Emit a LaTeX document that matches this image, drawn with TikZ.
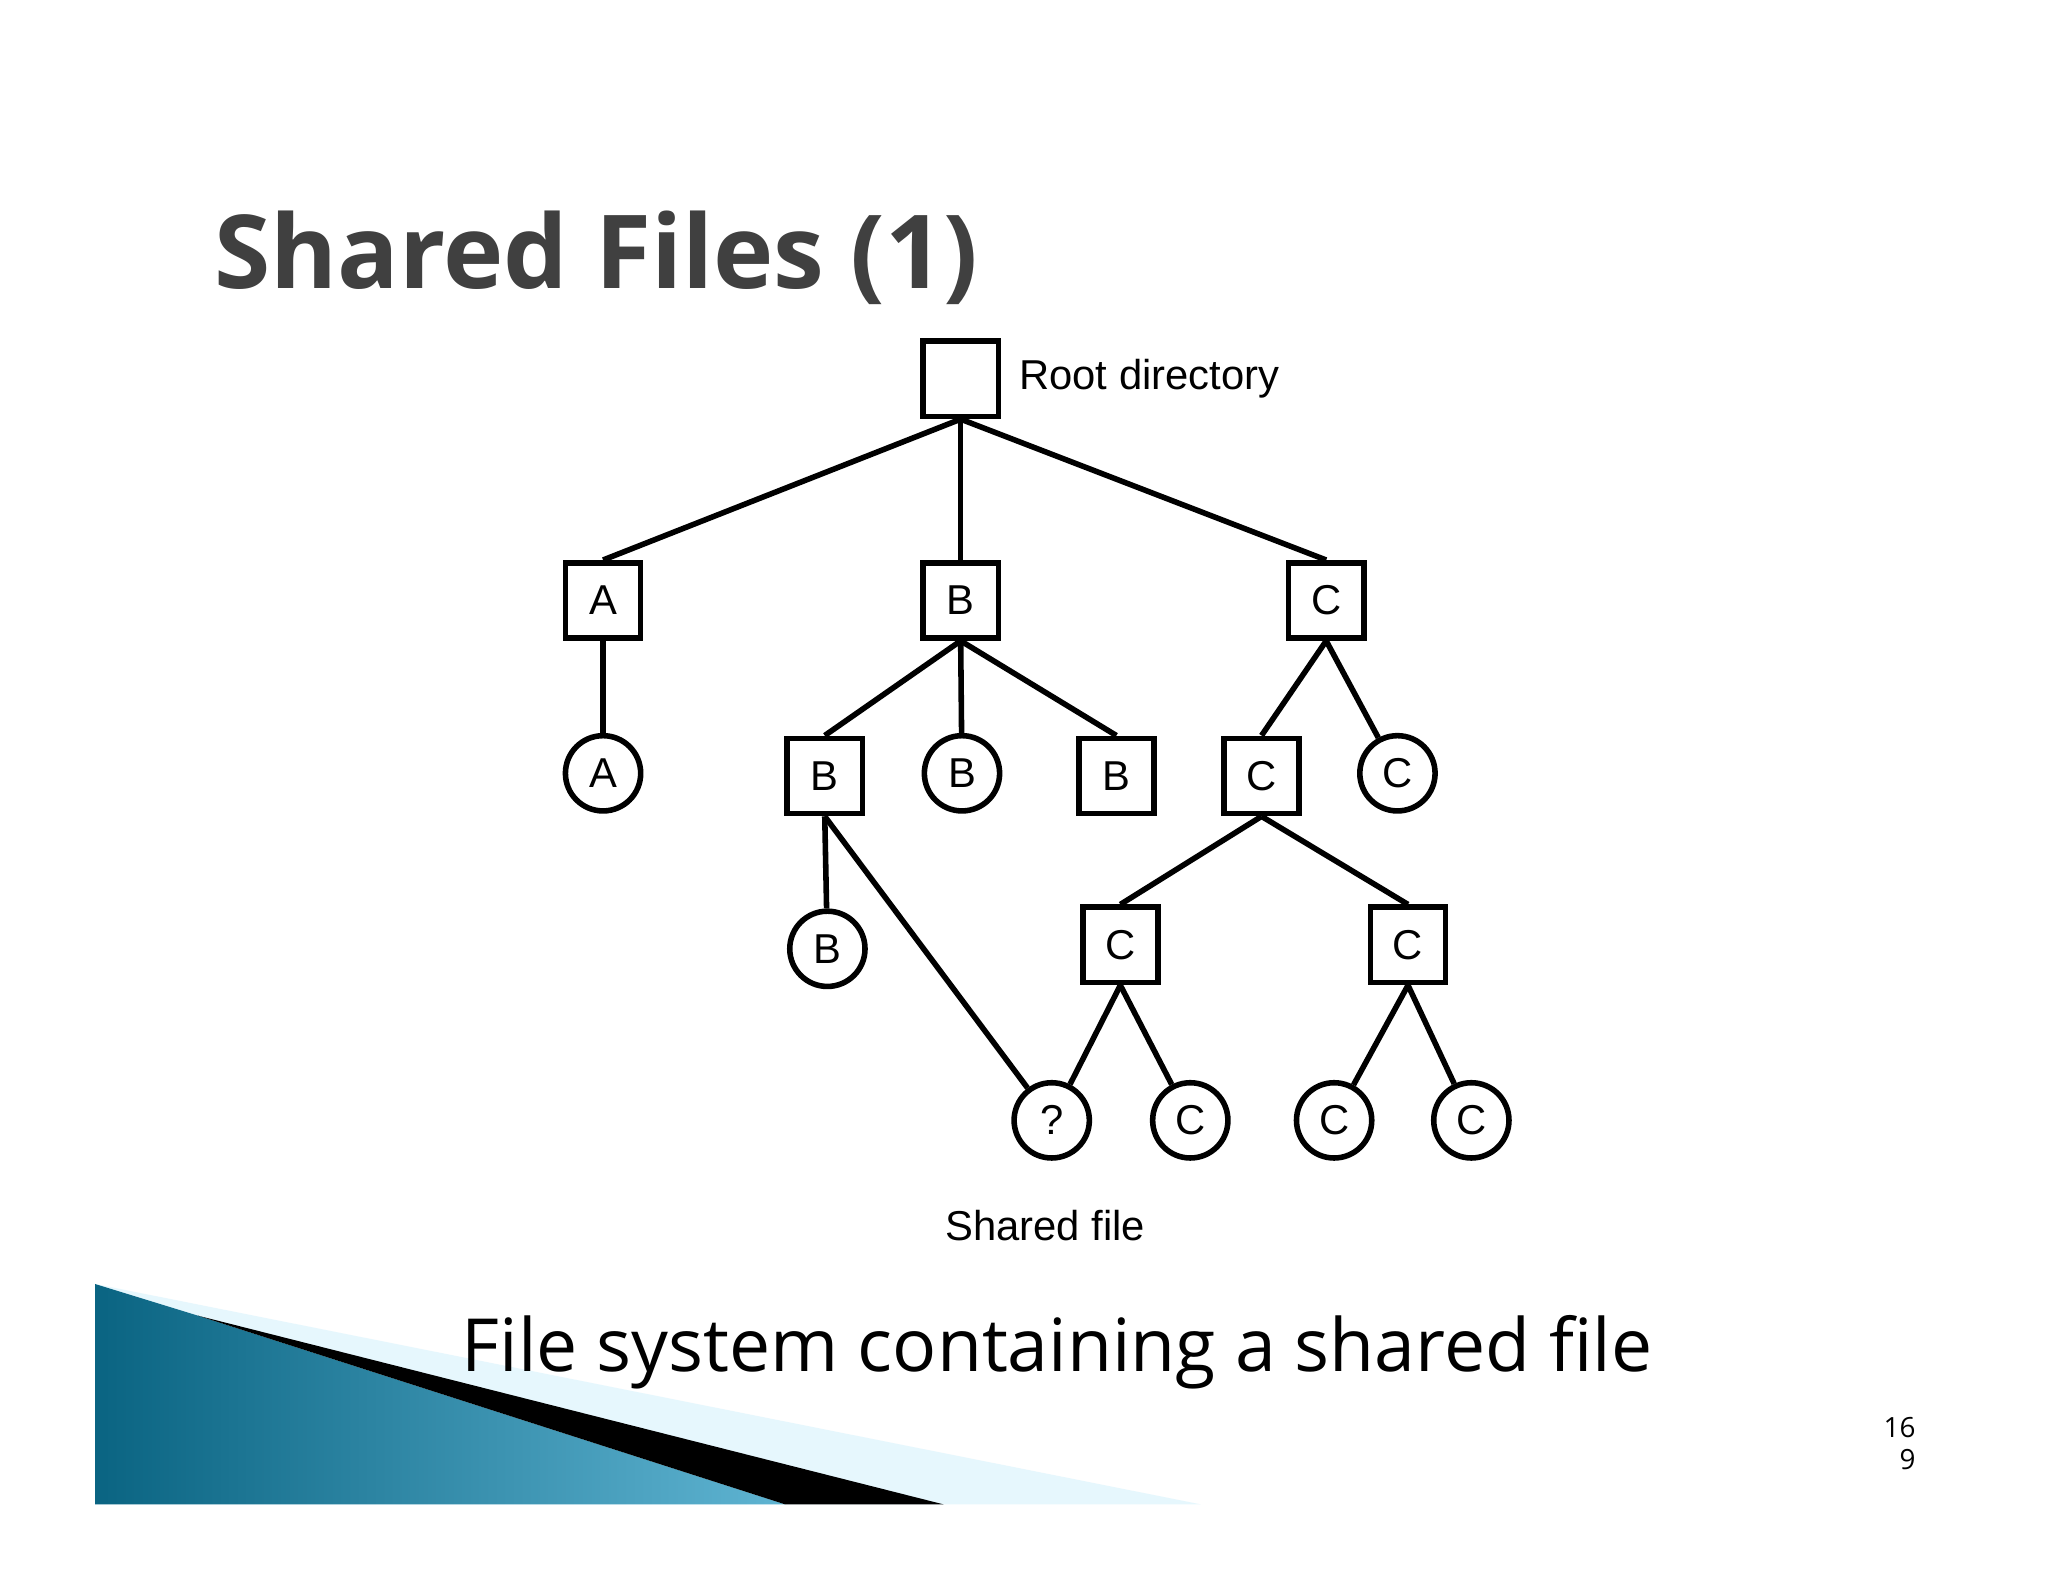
\documentclass[tikz,border=0pt]{standalone}
\usepackage{fontspec}
\setmainfont{Liberation Sans}
\newfontfamily\titlefont{Open Sans}
\definecolor{tealdark}{RGB}{10,100,130}
\definecolor{teallight}{RGB}{95,180,210}
\begin{document}
\begin{tikzpicture}[x=0.01cm,y=-0.01cm,
  dir/.style={draw,line width=1.2pt,minimum size=0.57cm,inner sep=0pt,font=\fontsize{9}{10}\selectfont},
  fil/.style={draw,circle,line width=1.2pt,minimum size=0.57cm,inner sep=0pt,font=\fontsize{9}{10}\selectfont},
  edge/.style={line width=1.2pt}]
\useasboundingbox (0,0) rectangle (1552,1199);
\fill[white] (0,0) rectangle (1552,1199);
% decoration
\fill[cyan!10!white] (72,973) -- (910,1140) -- (72,1140) -- cycle;
\shade[left color=tealdark, right color=teallight] (72,973) -- (150,997) -- (595,1140) -- (72,1140) -- cycle;
\fill[black] (150,997) -- (715,1140) -- (595,1140) -- cycle;
% title
\node[anchor=west,text=black!75,font=\titlefont\bfseries\fontsize{22}{26}\selectfont] (title) at (150,195) {Shared Files (1)};
\node[font=\titlefont\fontsize{15.8}{19}\selectfont] (cap) at (801,1025) {File system containing a shared file};
\node[font=\titlefont\fontsize{6}{7}\selectfont,align=right,anchor=east] (pg) at (1464,1094) {16\\9};
% nodes
\node[dir] (root) at (728,287) {};
\node[anchor=west,font=\fontsize{9}{10}\selectfont] (rl) at (760,287) {Root directory};
\node[dir] (A) at (457,455) {A};
\node[dir] (B) at (728,455) {B};
\node[dir] (C) at (1005,455) {C};
\node[fil] (a1) at (457,586) {A};
\node[dir] (b1) at (625,588) {B};
\node[fil] (b2) at (729,586) {B};
\node[dir] (b3) at (846,588) {B};
\node[dir] (c1) at (956,588) {C};
\node[fil] (c2) at (1059,586) {C};
\node[fil] (b4) at (627,719) {B};
\node[dir] (c3) at (849,716) {C};
\node[dir] (c4) at (1067,716) {C};
\node[fil] (q) at (797,849) {?};
\node[fil] (c5) at (902,849) {C};
\node[fil] (c6) at (1011,849) {C};
\node[fil] (c7) at (1115,849) {C};
\node[font=\fontsize{9}{10}\selectfont] (sf) at (792,929) {Shared file};
% edges
\draw[edge] (root.south) -- (A.north);
\draw[edge] (root.south) -- (B.north);
\draw[edge] (root.south) -- (C.north);
\draw[edge] (A.south) -- (a1);
\draw[edge] (B.south) -- (b1.north);
\draw[edge] (B.south) -- (b2);
\draw[edge] (B.south) -- (b3.north);
\draw[edge] (C.south) -- (c1.north);
\draw[edge] (C.south) -- (c2);
\draw[edge] (b1.south) -- (b4);
\draw[edge] (b1.south) -- (q);
\draw[edge] (c1.south) -- (c3.north);
\draw[edge] (c1.south) -- (c4.north);
\draw[edge] (c3.south) -- (q);
\draw[edge] (c3.south) -- (c5);
\draw[edge] (c4.south) -- (c6);
\draw[edge] (c4.south) -- (c7);
\end{tikzpicture}
\end{document}
